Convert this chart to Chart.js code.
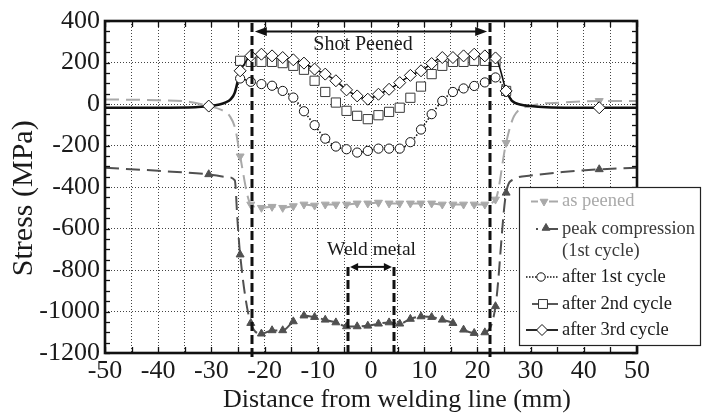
<!DOCTYPE html>
<html><head><meta charset="utf-8">
<script src="https://cdn.jsdelivr.net/npm/chart.js@4.4.0/dist/chart.umd.min.js"></script>
<style>html,body{margin:0;padding:0;background:#fff;overflow:hidden}canvas{display:block}</style>
</head><body>
<canvas id="c" width="709" height="416"></canvas>
<script>
// ---------- data ----------
const xTickValues = [-50,-40,-30,-20,-10,0,10,20,30,40,50];
const yTickValues = [400,200,0,-200,-400,-600,-800,-1000,-1200];
const xPos = [-24.6,-22.6,-20.6,-18.6,-16.6,-14.6,-12.6,-10.6,-8.6,-6.6,-4.6,-2.6,-0.6,1.4,3.4,5.4,7.4,9.4,11.4,13.4,15.4,17.4,19.4,21.4,23.4,25.4];
const asPeened = [-252,-484,-500,-495,-500,-492,-484,-489,-484,-484,-484,-479,-479,-475,-479,-479,-479,-479,-479,-484,-484,-484,-484,-484,-460,-187];
const peakCompression = [-726,-1056,-1107,-1091,-1091,-1048,-1020,-1027,-1040,-1053,-1072,-1072,-1069,-1059,-1053,-1059,-1036,-1024,-1027,-1040,-1056,-1088,-1104,-1101,-975,-428];
const after1st = [123,107,96,88,63,31,-35,-102,-167,-205,-218,-234,-226,-215,-215,-215,-184,-123,-49,15,58,75,87,104,128,60];
const after2nd = [208,203,203,203,197,184,165,112,58,7,-33,-57,-73,-54,-38,-18,30,84,144,184,203,203,208,208,203,63];
const after3rd = [160,232,240,232,224,213,197,168,144,112,68,39,23,47,71,103,138,160,195,224,224,232,240,232,222,63];
// smooth curve parts outside the peened zone (x, stress)
const asPeenedLeft = [[-50,22],[-40,18],[-34,10],[-30.5,-10],[-28,-30],[-26.5,-60],[-25.5,-120]];
const asPeenedRight = [[26.9,-58],[30,-9],[36,7],[42.9,15],[50,15]];
const peakLeft = [[-50,-307],[-40,-322],[-30.5,-339],[-27,-352],[-25.6,-368],[-25.1,-560]];
const peakRight = [[26.8,-363],[30,-345],[36,-328],[42.9,-315],[50,-307]];
const baseLeft = [[-50,-18],[-40,-18],[-33,-16],[-30.5,-10],[-28.5,-2],[-27.3,8],[-26.4,22],[-25.6,55]];
const baseRight = [[26.5,15],[28,-2],[30,-10],[33,-16],[38,-18],[42.9,-18],[50,-18]];
const after1stLeft = [[-25.6,55]];
const after1stRight = [[26.5,15]];
const outerMarkerX = [-30.5, 42.9];
const peenedZone = [-22.4, 22.4];
const weldZone = [-4.3, 4.3];
const legendLabels = ['as peened','peak compression','(1st cycle)','after 1st cycle','after 2nd cycle','after 3rd cycle'];

// ---------- helpers ----------
const FONT = "'Liberation Serif','Times New Roman',serif";
const pts = (xs, ys) => xs.map((x,i)=>({x, y: ys[i]}));
const edge = arr => arr.map(([x,y])=>({x,y}));
const outer = (l, r) => edge(l.concat(r).filter(p=>outerMarkerX.includes(p[0])));
const GRAY = '#a9a9a9', DARK = '#505050', BLACK = '#111';
const last = xPos.length - 1;

function marker(ctx, style, cx, cy, r, fill, stroke, down){
  ctx.beginPath();
  if(style==='circle') ctx.arc(cx,cy,r,0,Math.PI*2);
  else if(style==='rect'){ const s=r*Math.SQRT1_2; ctx.rect(cx-s,cy-s,2*s,2*s); }
  else if(style==='rectRot'){ ctx.moveTo(cx,cy-r);ctx.lineTo(cx+r,cy);ctx.lineTo(cx,cy+r);ctx.lineTo(cx-r,cy);ctx.closePath(); }
  else if(style==='triangle'){ const d = down?-1:1; ctx.moveTo(cx,cy-d*r); ctx.lineTo(cx+r*0.866,cy+d*r/2); ctx.lineTo(cx-r*0.866,cy+d*r/2); ctx.closePath(); }
  ctx.fillStyle=fill; ctx.fill(); ctx.lineWidth=1; ctx.strokeStyle=stroke; ctx.stroke();
}
function seg(ctx,x1,y1,x2,y2){ ctx.beginPath(); ctx.moveTo(x1,y1); ctx.lineTo(x2,y2); ctx.stroke(); }
function head(ctx, tipX, y, dir, len, half){
  ctx.beginPath(); ctx.moveTo(tipX,y); ctx.lineTo(tipX-dir*len,y-half); ctx.lineTo(tipX-dir*len,y+half); ctx.closePath(); ctx.fill();
}

const overlay = {
  id:'overlay',
  afterDatasetsDraw(chart){
    const {ctx, chartArea:a, scales:{x,y}} = chart;
    ctx.save();
    // thick dashed zone lines
    ctx.strokeStyle = BLACK; ctx.lineWidth = 3; ctx.setLineDash([9,4]);
    peenedZone.forEach(v=>{ const px=Math.round(x.getPixelForValue(v)); seg(ctx,px,a.top+2,px,a.bottom+4); });
    const wy = y.getPixelForValue(-785);
    weldZone.forEach(v=>{ const px=Math.round(x.getPixelForValue(v)); seg(ctx,px,wy,px,a.bottom); });
    ctx.setLineDash([]);
    // Shot peened arrow
    ctx.fillStyle = BLACK; ctx.lineWidth = 2;
    const sy = y.getPixelForValue(350);
    const sx1 = x.getPixelForValue(peenedZone[0])+3, sx2 = x.getPixelForValue(peenedZone[1])-3;
    seg(ctx,sx1+8,sy,sx2-8,sy); head(ctx,sx1,sy,-1,12,4.5); head(ctx,sx2,sy,1,12,4.5);
    // Weld arrow
    const wx1 = x.getPixelForValue(weldZone[0])+2, wx2 = x.getPixelForValue(weldZone[1])-2;
    seg(ctx,wx1+6,wy,wx2-6,wy); head(ctx,wx1,wy,-1,8,4); head(ctx,wx2,wy,1,8,4);
    // annotation text
    ctx.fillStyle = '#1a1a1a'; ctx.textAlign='center'; ctx.textBaseline='middle';
    ctx.font = `20px ${FONT}`;
    ctx.fillText('Shot Peened', x.getPixelForValue(-1.5), y.getPixelForValue(286));
    ctx.font = `19.5px ${FONT}`;
    ctx.fillText('Weld metal', x.getPixelForValue(0.1), y.getPixelForValue(-705));
    // inward ticks
    ctx.strokeStyle = BLACK; ctx.lineWidth = 1.3;
    for(let v=-1200; v<=400; v+=50){ const py=Math.round(y.getPixelForValue(v))+0.5; seg(ctx,a.left,py,a.left+5,py); seg(ctx,a.right,py,a.right-5,py); }
    for(let v=-50; v<=50; v+=5){ const px=Math.round(x.getPixelForValue(v))+0.5; seg(ctx,px,a.top,px,a.top+6); seg(ctx,px,a.bottom,px,a.bottom-6); }
    // frame
    ctx.lineWidth = 2.6; ctx.strokeStyle = BLACK;
    ctx.strokeRect(a.left, a.top, a.right-a.left, a.bottom-a.top);
    // legend box
    const L = {x1:519, y1:187, x2:700, y2:345};
    ctx.fillStyle='#fff'; ctx.fillRect(L.x1,L.y1,L.x2-L.x1,L.y2-L.y1);
    ctx.lineWidth=1.2; ctx.strokeStyle='#222'; ctx.strokeRect(L.x1+0.5,L.y1+0.5,L.x2-L.x1,L.y2-L.y1);
    ctx.font = `18.5px ${FONT}`; ctx.textAlign='left'; ctx.textBaseline='middle';
    const tx = 562;
    let ly = 201.5;
    ctx.strokeStyle=GRAY; ctx.lineWidth=2; seg(ctx,531,ly,538,ly); seg(ctx,549,ly,558,ly);
    marker(ctx,'triangle',544,ly,4.5,GRAY,GRAY,true);
    ctx.fillStyle=GRAY; ctx.fillText(legendLabels[0],tx,ly);
    ly = 229;
    ctx.strokeStyle=DARK; ctx.lineWidth=2; seg(ctx,536,ly,538,ly); seg(ctx,549,ly,558,ly);
    marker(ctx,'triangle',546,ly-1,4.5,DARK,DARK,false);
    ctx.fillStyle='#3a3a3a'; ctx.fillText(legendLabels[1],tx,ly); ctx.fillText(legendLabels[2],tx,251);
    ly = 277;
    ctx.strokeStyle=BLACK; ctx.lineWidth=1.6; ctx.setLineDash([1.5,1.5]); seg(ctx,526,ly,558,ly); ctx.setLineDash([]);
    marker(ctx,'circle',541,ly,4.2,'#fff',BLACK);
    ctx.fillStyle='#1a1a1a'; ctx.fillText(legendLabels[3],tx,ly);
    ly = 304;
    ctx.strokeStyle='#222'; ctx.lineWidth=1.5; seg(ctx,532,ly,558,ly);
    marker(ctx,'rect',543,ly,6.3,'#fff','#333');
    ctx.fillStyle='#1a1a1a'; ctx.fillText(legendLabels[4],tx,ly);
    ly = 330;
    ctx.strokeStyle=BLACK; ctx.lineWidth=1.8; seg(ctx,526,ly,558,ly);
    marker(ctx,'rectRot',542,ly,5.5,'#fff',BLACK);
    ctx.fillStyle='#1a1a1a'; ctx.fillText(legendLabels[5],tx,ly);
    ctx.restore();
  }
};

const lineDs = (data, color, width, dash) => ({data, showLine:true, borderColor:color, borderWidth:width, borderDash:dash, pointRadius:0, pointHoverRadius:0, cubicInterpolationMode:'monotone', fill:false});
const markDs = (data, style, r, fill, stroke, rot) => ({data, showLine:false, pointStyle:style, pointRadius:r, pointRotation:rot||0, pointBackgroundColor:fill, pointBorderColor:stroke, pointBorderWidth:1, pointHoverRadius:r});

const datasets = [
  markDs(pts(xPos,after3rd).concat(outer(baseLeft,baseRight)), 'rectRot', 6, '#fff', BLACK),
  lineDs(pts(xPos,after3rd), BLACK, 1.6, []),
  markDs(pts(xPos,after2nd), 'rect', 6.5, '#fff', '#3a3a3a'),
  markDs(pts(xPos,after1st), 'circle', 4.6, '#fff', BLACK),
  lineDs(edge(after1stLeft).concat(pts(xPos,after1st), edge(after1stRight)), BLACK, 1.6, [1.5,1.8]),
  lineDs(edge(baseLeft).concat(pts([xPos[0]],[after3rd[0]])), BLACK, 2.6, []),
  lineDs(pts([xPos[last]],[after3rd[last]]).concat(edge(baseRight)), BLACK, 2.6, []),
  markDs(pts(xPos,peakCompression).concat(outer(peakLeft,peakRight)), 'triangle', 4.6, DARK, DARK),
  lineDs(edge(peakLeft).concat(pts(xPos,peakCompression), edge(peakRight)), DARK, 2, [14,7]),
  markDs(pts(xPos,asPeened).concat(outer(asPeenedLeft,asPeenedRight)), 'triangle', 4.6, GRAY, GRAY, 180),
  lineDs(edge(asPeenedLeft).concat(pts(xPos,asPeened), edge(asPeenedRight)), GRAY, 2, [14,7])
];

const NB = n => '\u00a0'.repeat(n);
new Chart(document.getElementById('c'), {
  type:'scatter',
  data:{datasets},
  plugins:[overlay],
  options:{
    responsive:false, animation:false, devicePixelRatio:1,
    layout:{padding:{top:21, right:72, left:0, bottom:0}},
    plugins:{legend:{display:false}, tooltip:{enabled:false}},
    scales:{
      x:{type:'linear', min:-50, max:50,
        afterFit: s => { s.height = 63; },
        ticks:{stepSize:5, autoSkip:false, maxRotation:0, padding:3, color:'#1a1a1a',
          font:{family:FONT, size:26},
          callback: v => xTickValues.includes(v) ? String(v) : ''},
        grid:{color:'#444', lineWidth:1, drawTicks:false},
        border:{display:false, dash:[1,2]},
        title:{display:true, text:NB(8)+'Distance from welding line (mm)', color:'#1a1a1a', font:{family:FONT, size:26}, padding:{top:3, bottom:0}}
      },
      y:{type:'linear', min:-1200, max:400,
        afterFit: s => { s.width = 105; },
        ticks:{stepSize:200, padding:5, color:'#1a1a1a', font:{family:FONT, size:26},
          callback: v => yTickValues.includes(v) ? String(v) : ''},
        grid:{color:'#444', lineWidth:1, drawTicks:false},
        border:{display:false, dash:[1,2]},
        title:{display:true, text:'Stress (MPa)'+NB(3), color:'#1a1a1a', font:{family:FONT, size:30}, padding:{top:6, bottom:0}}
      }
    }
  }
});
</script>
</body></html>
